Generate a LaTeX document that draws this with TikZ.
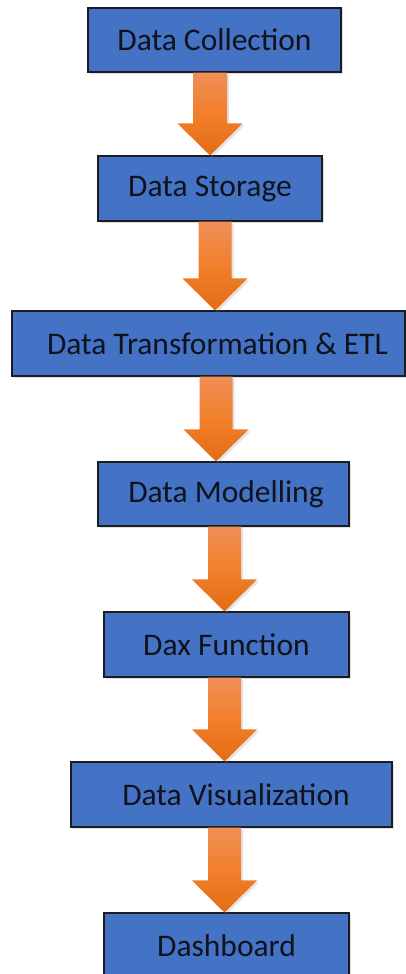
\documentclass[tikz,border=0pt]{standalone}
\usepackage{fontspec}
\setmainfont{Carlito}
\usetikzlibrary{calc,shadows}
\definecolor{boxblue}{HTML}{4472C4}
\definecolor{boxline}{HTML}{1C1C1C}
\definecolor{boxtext}{HTML}{10131C}
\definecolor{arrtop}{HTML}{EF8F57}
\definecolor{arrmid}{HTML}{F27F2C}
\definecolor{arrbot}{HTML}{E46C12}
\tikzset{
  stepbox/.style={draw=boxline, line width=1.1pt, fill=boxblue, text=boxtext,
    minimum height=64pt, inner sep=0pt, anchor=center,
    font=\fontsize{31.5}{36}\selectfont,
    drop shadow={opacity=0.25, shadow xshift=1.5pt, shadow yshift=-1.5pt}},
  fatarrowstyle/.style={top color=arrtop, bottom color=arrbot, middle color=arrmid,
    draw=none,
    drop shadow={opacity=0.22, shadow xshift=2pt, shadow yshift=-2pt}}
}
\newcommand\fatarrow[4]{% from, to, x centre, shaft half width
  \path[fatarrowstyle] let \p1=(#1.south), \p2=(#2.north) in
    ({#3pt-#4pt},\y1) -- ({#3pt+#4pt},\y1) -- ({#3pt+#4pt},{\y2+32pt})
    -- ({#3pt+32.5pt},{\y2+32pt}) -- ({#3pt},\y2) -- ({#3pt-32.5pt},{\y2+32pt})
    -- ({#3pt-#4pt},{\y2+32pt}) -- cycle;}
\begin{document}
\begin{tikzpicture}[x=1pt,y=-1pt]
\useasboundingbox (0,0) rectangle (406,974);
\node[stepbox, minimum width=253pt] (b1) at (214.5,40) {Data Collection};
\node[stepbox, minimum width=224pt, minimum height=65pt] (b2) at (210,188.5) {Data Storage};
\node[stepbox, minimum width=393pt, minimum height=65pt] (b3) at (208.5,343.5) {\hspace*{18pt}Data Transformation \& ETL};
\node[stepbox, minimum width=251pt] (b4) at (223.5,494) {\hspace*{5pt}Data Modelling};
\node[stepbox, minimum width=245pt, minimum height=65pt] (b5) at (226.5,644.5) {Dax Function};
\node[stepbox, minimum width=321pt, minimum height=65pt] (b6) at (231.5,794.5) {\hspace*{9pt}Data Visualization};
\node[stepbox, minimum width=245pt, minimum height=65pt] (b7) at (226.5,945.5) {Dashboard};
\fatarrow{b1}{b2}{210}{17}
\fatarrow{b2}{b3}{215}{16.5}
\fatarrow{b3}{b4}{216}{16.5}
\fatarrow{b4}{b5}{224.5}{16.5}
\fatarrow{b5}{b6}{224.5}{16.5}
\fatarrow{b6}{b7}{224.5}{16.5}
\end{tikzpicture}
\end{document}
